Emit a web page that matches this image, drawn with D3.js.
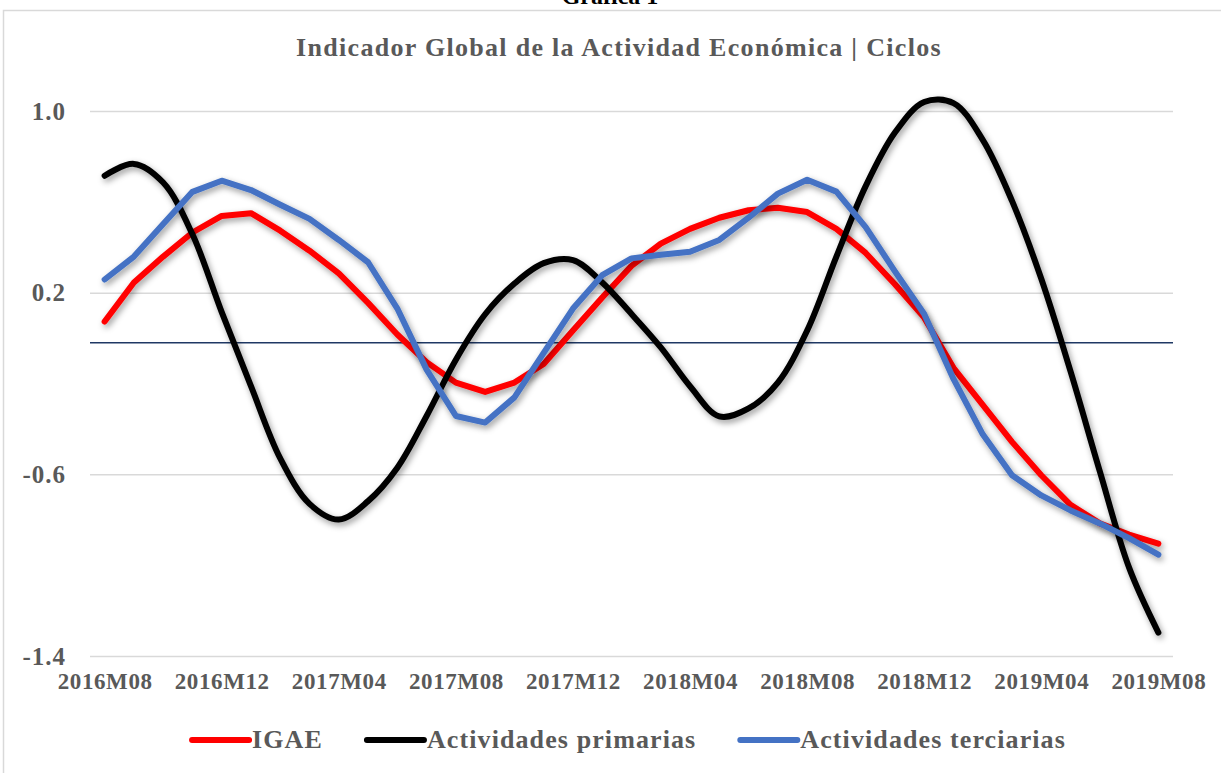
<!DOCTYPE html>
<html>
<head>
<meta charset="utf-8">
<script src="https://cdn.jsdelivr.net/npm/d3@7"></script>
<style>
  body { margin: 0; background: #fff; }
  svg { display: block; font-family: "Liberation Serif", "DejaVu Serif", serif; }
</style>
</head>
<body>
<svg id="chart" width="1221" height="773"></svg>
<script>
// Monthly periods, 2016M08 .. 2019M08
var months = [];
for (var yr = 2016; yr <= 2019; yr++) {
  for (var mo = 1; mo <= 12; mo++) {
    if ((yr === 2016 && mo < 8) || (yr === 2019 && mo > 8)) continue;
    months.push(yr + 'M' + (mo < 10 ? '0' + mo : mo));
  }
}

// Series (cycle values)
var igae = [0.073, 0.245, 0.359, 0.465, 0.538, 0.550, 0.473, 0.385, 0.285, 0.155,
  0.016, -0.106, -0.196, -0.237, -0.196, -0.114, 0.033, 0.179, 0.318, 0.416,
  0.481, 0.530, 0.563, 0.574, 0.555, 0.481, 0.375, 0.237, 0.090, -0.131,
  -0.294, -0.457, -0.604, -0.734, -0.816, -0.865, -0.905];

var primarias = [0.715, 0.767, 0.685, 0.457, 0.114, -0.212, -0.530, -0.730, -0.799, -0.718,
  -0.571, -0.343, -0.095, 0.105, 0.240, 0.330, 0.343, 0.245, 0.106, -0.041,
  -0.212, -0.345, -0.310, -0.196, 0.033, 0.359, 0.669, 0.905, 1.040, 1.035,
  0.873, 0.604, 0.261, -0.147, -0.587, -1.011, -1.297];

var terciarias = [0.258, 0.359, 0.502, 0.644, 0.693, 0.652, 0.587, 0.525, 0.432, 0.334,
  0.130, -0.139, -0.343, -0.372, -0.261, -0.065, 0.130, 0.277, 0.351, 0.367,
  0.380, 0.432, 0.530, 0.636, 0.697, 0.645, 0.489, 0.294, 0.106, -0.180,
  -0.424, -0.604, -0.693, -0.759, -0.816, -0.881, -0.954];

var yTicks = [-1.4, -0.6, 0.2, 1.0];
var xTicks = months.filter(function(d, i) { return i % 4 === 0; });
var refLine = -0.02;

var series = [
  { name: 'IGAE', values: igae, color: '#ff0000', smooth: false },
  { name: 'Actividades primarias', values: primarias, color: '#000000', smooth: true },
  { name: 'Actividades terciarias', values: terciarias, color: '#4472c4', smooth: false }
];

var svg = d3.select('#chart');
var plotL = 90, plotR = 1173, plotT = 111, plotB = 656;
var gray = '#595959';

// Drop shadow like the spreadsheet lines
svg.append('defs').append('filter')
    .attr('id', 'shadow')
    .attr('x', '-10%').attr('y', '-10%')
    .attr('width', '120%').attr('height', '120%')
  .append('feDropShadow')
    .attr('dx', 2).attr('dy', 3)
    .attr('stdDeviation', 3)
    .attr('flood-color', '#000')
    .attr('flood-opacity', 0.4);

// Chart border
svg.append('rect')
   .attr('x', 3.5).attr('y', 10.5)
   .attr('width', 1240).attr('height', 800)
   .attr('fill', 'none')
   .attr('stroke', '#d9d9d9')
   .attr('stroke-width', 1.5);

// Heading above the chart, cut at the top
svg.append('text')
   .attr('x', 610).attr('y', 4)
   .attr('text-anchor', 'middle')
   .attr('font-weight', 'bold')
   .attr('font-size', 24)
   .attr('fill', '#000')
   .text('Gráfica 1');

svg.append('text')
   .attr('x', 619).attr('y', 56)
   .attr('text-anchor', 'middle')
   .attr('font-weight', 'bold')
   .attr('font-size', 26)
   .attr('letter-spacing', 1.3)
   .attr('fill', gray)
   .text('Indicador Global de la Actividad Económica | Ciclos');

var x = d3.scalePoint().domain(months).range([plotL, plotR]).padding(0.5);
var yScale = d3.scaleLinear().domain([-1.4, 1.0]).range([plotB, plotT]);

// Y axis with gridlines (plain hyphen for negatives)
var yAxis = svg.append('g')
   .attr('transform', 'translate(' + plotL + ',0)')
   .call(d3.axisLeft(yScale)
           .tickValues(yTicks)
           .tickFormat(function(d) { return d.toFixed(1); })
           .tickSize(-(plotR - plotL))
           .tickPadding(24));
yAxis.select('.domain').remove();
yAxis.selectAll('line').attr('stroke', '#d9d9d9').attr('stroke-width', 1.5);
yAxis.selectAll('text')
     .attr('font-family', '"Liberation Serif", serif')
     .attr('font-size', 25)
     .attr('letter-spacing', 1)
     .attr('font-weight', 'bold')
     .attr('fill', gray);

// X axis labels
var xAxis = svg.append('g')
   .attr('transform', 'translate(0,' + plotB + ')')
   .call(d3.axisBottom(x).tickValues(xTicks).tickSize(0).tickPadding(17));
xAxis.select('.domain').remove();
xAxis.selectAll('text')
     .attr('font-family', '"Liberation Serif", serif')
     .attr('font-size', 23)
     .attr('letter-spacing', 0.6)
     .attr('font-weight', 'bold')
     .attr('fill', gray);

// Reference line near zero
svg.append('line')
   .attr('x1', plotL).attr('x2', plotR)
   .attr('y1', yScale(refLine)).attr('y2', yScale(refLine))
   .attr('stroke', '#1f3864')
   .attr('stroke-width', 1.5);

// Series lines
series.forEach(function(s) {
  var line = d3.line()
    .x(function(d, i) { return x(months[i]); })
    .y(function(d) { return yScale(d); })
    .curve(s.smooth ? d3.curveCatmullRom.alpha(0.5) : d3.curveLinear);
  svg.append('path')
     .datum(s.values)
     .attr('d', line)
     .attr('fill', 'none')
     .attr('stroke', s.color)
     .attr('stroke-width', 6)
     .attr('stroke-linecap', 'round')
     .attr('stroke-linejoin', 'round')
     .attr('filter', 'url(#shadow)');
});

// Legend, centred under the plot
var legend = svg.append('g');
var cursor = 0, legY = 740;
series.forEach(function(s) {
  var item = legend.append('g').attr('transform', 'translate(' + cursor + ',0)');
  item.append('line')
      .attr('x1', 0).attr('x2', 57)
      .attr('y1', legY).attr('y2', legY)
      .attr('stroke', s.color)
      .attr('stroke-width', 6)
      .attr('stroke-linecap', 'round');
  var t = item.append('text')
      .attr('x', 60).attr('y', legY + 8)
      .attr('font-size', 26)
      .attr('letter-spacing', 1.1)
      .attr('font-weight', 'bold')
      .attr('fill', gray)
      .text(s.name);
  cursor += 60 + t.node().getComputedTextLength() + 44;
});
var legW = cursor - 44;
legend.attr('transform', 'translate(' + (629 - legW / 2) + ',0)');
</script>
</body>
</html>
